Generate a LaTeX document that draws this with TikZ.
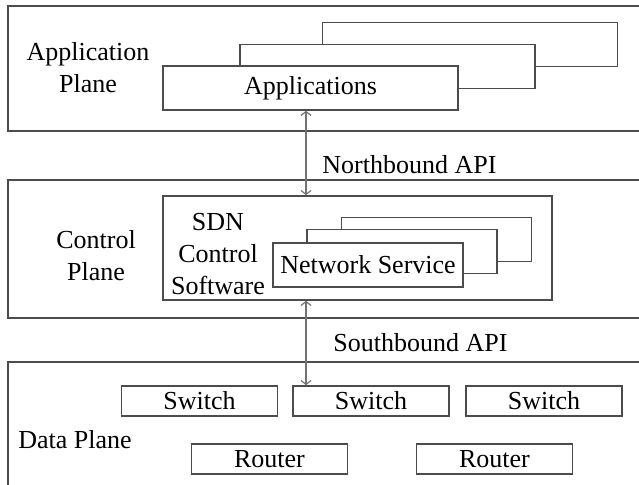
\documentclass[tikz,border=0pt]{standalone}
\usepackage{fontspec}
\setmainfont{Liberation Serif}
\usetikzlibrary{arrows.meta,positioning,calc}

\begin{document}
\begin{tikzpicture}[
  x=0.5pt,y=-0.5pt,
  font=\fontsize{13}{16}\selectfont,
  plane/.style={draw=black!70,line width=0.75pt,inner sep=0pt,minimum width=321pt},
  box/.style={draw=black!70,fill=white,line width=0.75pt,inner sep=0pt},
  appbox/.style={box,minimum width=147.5pt,minimum height=22pt},
  svcbox/.style={box,minimum width=95pt,minimum height=22pt},
  devbox/.style={box,minimum width=78pt,minimum height=15pt},
  lbl/.style={align=center,inner sep=0pt},
  arr/.style={{Straight Barb[length=2pt,width=5pt]}-{Straight Barb[length=2pt,width=5pt]},draw=black!55,line width=0.6pt},
]
\useasboundingbox (0,0) rectangle (639,485);
% the three planes
\node[plane,minimum height=62.5pt] (appplane) at (329,68.5) {};
\node[plane,minimum height=69pt] (ctrlplane) at (329,249) {};
\node[plane,minimum height=69pt] (dataplane) at (329,431) {};
\node[lbl] (applbl) at (88,68) {Application\\Plane};
\node[lbl] (ctrllbl) at (96,256) {Control\\Plane};
\node[lbl] (datalbl) at (75,440) {Data Plane};
% application plane
\node[appbox] (app3) at (470,44.5) {};
\node[appbox] (app2) at (387.5,66.5) {};
\node[appbox] (app) at (310.5,88) {Applications};
% control plane
\node[box,minimum width=194.5pt,minimum height=52pt] (sdn) at (357.5,248) {};
\node[lbl] (sdnlbl) at (218,254) {SDN\\Control\\Software};
\node[svcbox] (svc3) at (436.5,239.5) {};
\node[svcbox] (svc2) at (402,251.5) {};
\node[svcbox] (svc) at (368,265) {Network Service};
% data plane
\node[devbox] (sw1) at (199.5,401) {Switch};
\node[devbox] (sw2) at (371,401) {Switch};
\node[devbox] (sw3) at (544,401) {Switch};
\node[devbox] (rt1) at (269.5,459) {Router};
\node[devbox] (rt2) at (494.5,459) {Router};
% interfaces
\coordinate (axis) at (306,0);
\draw[arr] (app.south -| axis) -- (sdn.north -| axis);
\draw[arr] (sdn.south -| axis) -- (sw2.north -| axis);
\node[anchor=west,inner sep=0pt] (nbi) at (322,165) {Northbound API};
\node[anchor=west,inner sep=0pt] (sbi) at (333,343) {Southbound API};
\end{tikzpicture}
\end{document}
